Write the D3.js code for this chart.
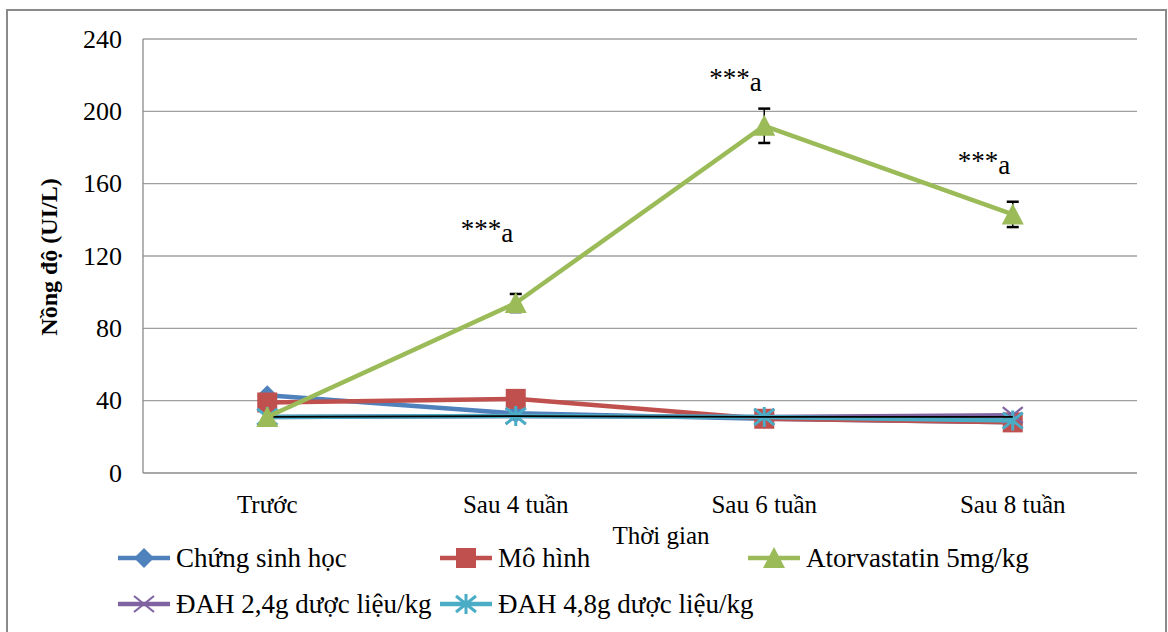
<!DOCTYPE html>
<html><head><meta charset="utf-8">
<script src="https://cdn.jsdelivr.net/npm/d3@7"></script>
<style>body{margin:0;background:#fff}svg{display:block}</style>
</head><body><svg id="c" width="1168" height="632"></svg>
<script>
const categories = ["Trước", "Sau 4 tuần", "Sau 6 tuần", "Sau 8 tuần"];
const yTicks = [0, 40, 80, 120, 160, 200, 240];
const seriesNames = ["Chứng sinh học", "Mô hình", "Atorvastatin 5mg/kg", "ĐAH 2,4g dược liệu/kg", "ĐAH 4,8g dược liệu/kg"];
const chungSinhHoc = [43, 33, 30, 28];
const moHinh = [39, 41, 30, 28];
const atorvastatin = [31, 94, 192, 143];
const atorvastatinErr = [0, 5, 9.5, 7];
const dah24 = [31, 31.5, 31, 32];
const dah48 = [31, 31.5, 31, 29];
const blackLine = [31, 31.5, 31, 31];
const annotations = [null, "***a", "***a", "***a"];
const colors = ["#4F81BD", "#C0504D", "#9BBB59", "#8064A2", "#4BACC6"];
const markers = ["diamond", "square", "triangle", "x", "star"];

const FONT = "Liberation Serif";
const svg = d3.select("#c");
const L = 143, R = 1137, T = 39, B = 473;
const x = d3.scalePoint().domain(categories).range([L, R]).padding(0.5);
const y = d3.scaleLinear().domain([0, 240]).range([B, T]);

svg.append("rect").attr("x", 7).attr("y", 10).attr("width", 1159).attr("height", 640)
  .attr("fill", "none").attr("stroke", "#8a8a8a").attr("stroke-width", 2);

svg.append("g").selectAll("line").data(yTicks.filter(d => d > 0)).join("line")
  .attr("x1", L).attr("x2", R).attr("y1", d => y(d)).attr("y2", d => y(d))
  .attr("stroke", "#a0a0a0").attr("stroke-width", 1.3);
svg.append("line").attr("x1", L).attr("x2", L).attr("y1", T).attr("y2", B).attr("stroke", "#8a8a8a").attr("stroke-width", 1.3);
svg.append("line").attr("x1", L).attr("x2", R).attr("y1", B).attr("y2", B).attr("stroke", "#8a8a8a").attr("stroke-width", 1.3);

svg.append("g").selectAll("text").data(yTicks).join("text")
  .attr("x", 122).attr("y", d => y(d)).attr("dy", "0.33em").attr("text-anchor", "end")
  .style("font-family", FONT).attr("font-size", 26).text(d => d);
svg.append("g").selectAll("text").data(categories).join("text")
  .attr("x", d => x(d)).attr("y", 513).attr("text-anchor", "middle")
  .style("font-family", FONT).attr("font-size", 25).text(d => d);

svg.append("text").attr("x", 661).attr("y", 544).attr("text-anchor", "middle").style("font-family", FONT).attr("font-size", 25).text("Thời gian");
svg.append("text").attr("transform", "translate(57,257) rotate(-90)").attr("text-anchor", "middle")
  .style("font-family", FONT).attr("font-size", 24).attr("font-weight", "bold").text("Nồng độ (UI/L)");

function drawMarker(g, type, cx, cy, color) {
  const s = 10;
  if (type === "diamond") g.append("path").attr("d", `M${cx},${cy-s}L${cx+s},${cy}L${cx},${cy+s}L${cx-s},${cy}Z`).attr("fill", color);
  else if (type === "square") g.append("rect").attr("x", cx-s).attr("y", cy-s).attr("width", 2*s).attr("height", 2*s).attr("fill", color);
  else if (type === "triangle") g.append("path").attr("d", `M${cx},${cy-s-1}L${cx+s+1},${cy+s}L${cx-s-1},${cy+s}Z`).attr("fill", color);
  else if (type === "x") g.append("path").attr("d", `M${cx-s},${cy-s*0.8}L${cx+s},${cy+s*0.8}M${cx-s},${cy+s*0.8}L${cx+s},${cy-s*0.8}`).attr("stroke", color).attr("stroke-width", 2.2).attr("fill", "none");
  else if (type === "star") g.append("path").attr("d", `M${cx-s},${cy-s*0.8}L${cx+s},${cy+s*0.8}M${cx-s},${cy+s*0.8}L${cx+s},${cy-s*0.8}M${cx},${cy-s}L${cx},${cy+s}`).attr("stroke", color).attr("stroke-width", 3).attr("fill", "none");
}

const allSeries = [chungSinhHoc, moHinh, atorvastatin, dah24, dah48];
const line = d3.line().x((d, i) => x(categories[i])).y(d => y(d));
const order = [0, 1, 3, 4, 2];
order.forEach(k => {
  const g = svg.append("g");
  g.append("path").datum(allSeries[k]).attr("d", line).attr("fill", "none")
    .attr("stroke", colors[k]).attr("stroke-width", 4.5).attr("stroke-linejoin", "round");
  if (k === 2) {
    atorvastatin.forEach((v, i) => {
      const e = atorvastatinErr[i]; if (!e) return;
      const cx = x(categories[i]);
      g.append("line").attr("x1", cx).attr("x2", cx).attr("y1", y(v+e)).attr("y2", y(v-e)).attr("stroke", "#000").attr("stroke-width", 1.5);
      [v+e, v-e].forEach(w => g.append("line").attr("x1", cx-6).attr("x2", cx+6).attr("y1", y(w)).attr("y2", y(w)).attr("stroke", "#000").attr("stroke-width", 2.5));
    });
  }
  allSeries[k].forEach((v, i) => drawMarker(g, markers[k], x(categories[i]), y(v), colors[k]));
  if (k === 4) {
    svg.append("path").datum(blackLine).attr("d", line).attr("fill", "none").attr("stroke", "#000").attr("stroke-width", 1.8);
  }
});

const annOffset = [0, 56, 22, 32];
const annG = svg.append("g");
annotations.forEach((a, i) => {
  if (!a) return;
  const cx = x(categories[i]);
  const top = y(atorvastatin[i] + atorvastatinErr[i]);
  const t = annG.append("text").attr("x", cx - 55).attr("y", top - annOffset[i]).style("font-family", FONT).attr("font-size", 27);
  t.append("tspan").text(a.slice(0, 3));
  t.append("tspan").attr("dy", 4).text(a.slice(3));
});

const legendPos = [[118, 558], [440, 558], [748, 558], [118, 604], [440, 604]];
seriesNames.forEach((n, k) => {
  const [lx, ly] = legendPos[k];
  const g = svg.append("g");
  g.append("line").attr("x1", lx).attr("x2", lx + 52).attr("y1", ly).attr("y2", ly).attr("stroke", colors[k]).attr("stroke-width", 4.5);
  drawMarker(g, markers[k], lx + 26, ly, colors[k]);
  g.append("text").attr("x", lx + 58).attr("y", ly).attr("dy", "0.33em").style("font-family", FONT).attr("font-size", 27).text(n);
});
</script></body></html>
